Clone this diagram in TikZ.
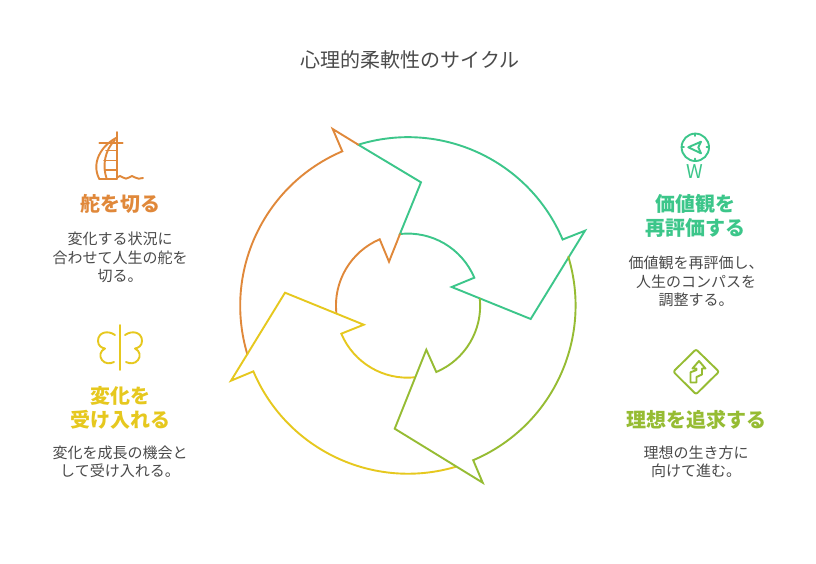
\documentclass[tikz,border=0pt]{standalone}
\usepackage{fontspec}
\setmainfont{Noto Sans CJK JP}
\definecolor{rudder}{HTML}{E0883A}
\definecolor{values}{HTML}{3CC68A}
\definecolor{ideal}{HTML}{96BC33}
\definecolor{accept}{HTML}{E6C81E}
\definecolor{bodygray}{HTML}{4A4A4A}
\tikzset{
    loopline/.style={line width=1.9pt, line join=miter, line cap=round},
    iconline/.style={line width=1.9pt, line join=round, line cap=round},
    headtext/.style={align=center, font=\fontsize{20}{24}\selectfont\bfseries},
    bodytext/.style={align=center, text=bodygray, font=\fontsize{15}{18.3}\selectfont},
}
\begin{document}
\begin{tikzpicture}[x=1pt, y=-1pt]
        \useasboundingbox (0,0) rectangle (816,564);
        \fill[white] (0,0) rectangle (816,564);

        \node[text=bodygray, font=\fontsize{20}{24}\selectfont] (title) at (410,59.5) {心理的柔軟性のサイクル};

        % outer and inner ring
        \draw[loopline, values] (358.3,144.7) arc[start angle=252.8, end angle=337, radius=168]
            -- (585,230.7) -- (530.7,319) -- (451.7,287) -- (474.3,277.7)
            arc[start angle=337.2, end angle=263.6, radius=72]
            -- (421,182.3) -- cycle;
        \draw[loopline, rudder] (358.3,144.7) -- (332.7,129) -- (342.3,151.3)
            arc[start angle=246.9, end angle=163.2, radius=168];
        \draw[loopline, rudder] (400,234) -- (389,261.7) -- (379.7,239.3)
            arc[start angle=246.9, end angle=174.3, radius=72];
        \draw[loopline, accept] (456,466.7) arc[start angle=73.4, end angle=157, radius=168]
            -- (231,380.7) -- (285,292.7) -- (363.7,324.7) -- (341.3,333.7)
            arc[start angle=157.1, end angle=84.5, radius=72];
        \draw[loopline, ideal] (568.3,256.7) arc[start angle=343.1, end angle=427, radius=168]
            -- (482.7,482.7) -- (394.7,428.7) -- (426.3,349.7) -- (436.3,372)
            arc[start angle=67, end angle=-5.4, radius=72];

        % rudder
        \draw[iconline, rudder] (116.7,132) -- (116.7,179);
        \draw[iconline, rudder] (99.3,143.3) -- (122.7,143.3);
        \draw[iconline, rudder] (99.3,179) -- (116.7,179);
        \draw[iconline, rudder] (116,138) .. controls (101,146) and (91,163) .. (99.3,179);
        \draw[iconline, rudder] (115,140) .. controls (105,150) and (102,165) .. (106.7,179);
        \draw[iconline, rudder] (106,150.5) -- (116.7,150.5);
        \draw[iconline, rudder] (104,160.5) -- (116.7,160.5);
        \draw[iconline, rudder] (104.5,170) -- (116.7,170);
        \draw[iconline, rudder] (117,177.5) .. controls (119,175.5) and (121,175.5) .. (123,177.5)
            .. controls (125,179) and (127,179) .. (129,177.5)
            .. controls (131,175.5) and (133,175.5) .. (135,177.5)
            .. controls (137,179) and (140,179) .. (143,178);
        \node[headtext, text=rudder] (rudderhead) at (120,203.5) {舵を切る};
        \node[bodytext] (rudderbody) at (120,257.5) {変化する状況に\\合わせて人生の舵を\\切る。};

        % butterfly
        \draw[iconline, accept] (120,325) -- (120,370);
        \draw[iconline, accept] (115,335) .. controls (108,330) and (98,332) .. (98,341)
            .. controls (98,346) and (102,348) .. (105,348.5)
            .. controls (100,351) and (99,356) .. (102,360)
            .. controls (105,364) and (110,364) .. (114,362);
        \draw[iconline, accept] (125,335) .. controls (132,330) and (142,332) .. (142,341)
            .. controls (142,346) and (138,348) .. (135,348.5)
            .. controls (140,351) and (141,356) .. (138,360)
            .. controls (135,364) and (130,364) .. (126,362);
        \node[headtext, text=accept] (accepthead) at (120,408) {変化を\\受け入れる};
        \node[bodytext] (acceptbody) at (120,461.5) {変化を成長の機会と\\して受け入れる。};

        % compass
        \draw[iconline, values] (695.3,147.3) circle[radius=13.7];
        \draw[iconline, values] (695.3,133.6) -- (695.3,136);
        \draw[iconline, values] (695.3,158.6) -- (695.3,161);
        \draw[iconline, values] (681.6,147.3) -- (684,147.3);
        \draw[iconline, values] (706.6,147.3) -- (709,147.3);
        \draw[iconline, values] (688.3,147.3) -- (701,141.7) -- (698.3,147.3) -- (701,153.3) -- cycle;
        \node[text=values, font=\fontsize{19}{22}\selectfont] (compassw) at (695.3,172) {W};
        \node[headtext, text=values] (valuehead) at (695.5,215.5) {価値観を\\再評価する};
        \node[bodytext] (valuebody) at (696,281.5) {価値観を再評価し、\\人生のコンパスを\\調整する。};

        % road sign
        \draw[iconline, ideal, rounded corners=2pt] (696,349.3) -- (719,371.7) -- (696,394.3) -- (673.3,371.7) -- cycle;
        \draw[iconline, ideal] (699,361) -- (705.5,368.5) -- (702,368.5) -- (702,374.5) -- (696.5,377)
            -- (696.5,382.5) -- (690.5,382.5) -- (690.5,372.3) -- (696.5,370) -- (696.5,368.5) -- (692.5,368.5) -- cycle;
        \node[headtext, text=ideal] (idealhead) at (696,419.5) {理想を追求する};
        \node[bodytext] (idealbody) at (696,461.5) {理想の生き方に\\向けて進む。};
    \end{tikzpicture}
\end{document}
